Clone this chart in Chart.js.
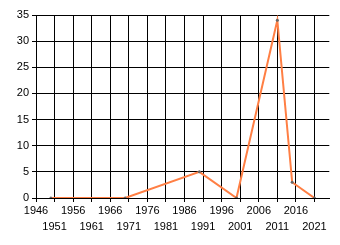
<!DOCTYPE html>
<html>
<head>
<meta charset="utf-8">
<script src="https://cdn.jsdelivr.net/npm/chart.js"></script>
<style>
  body { margin: 0; background: #fff; }
</style>
</head>
<body>
<canvas id="lineChart" width="340" height="245"></canvas>
<script>
// Values
var years = [1950, 1970, 1990, 2000, 2011, 2015, 2021];
var counts = [0, 0, 5, 0, 34, 3, 0];
var xTicks = [1946, 1951, 1956, 1961, 1966, 1971, 1976, 1981, 1986, 1991, 1996, 2001, 2006, 2011, 2016, 2021];
var yTicks = [0, 5, 10, 15, 20, 25, 30, 35];

var points = years.map((y, i) => ({ x: y, y: counts[i] }));

var ctx = document.getElementById('lineChart').getContext('2d');
var lineChart = new Chart(ctx, {
    type: 'line',
    data: {
        datasets: [{
            data: points,
            borderColor: 'rgb(255, 127, 68)',
            borderWidth: 2,
            pointRadius: 1.5,
            pointBackgroundColor: '#666',
            pointBorderWidth: 0,
            tension: 0
        }]
    },
    options: {
        responsive: false,
        animation: false,
        layout: { padding: { top: 15, right: 10.7, left: 0, bottom: 0 } },
        scales: {
            x: {
                type: 'linear',
                min: 1946,
                max: 2025,
                afterBuildTicks: axis => {
                    axis.ticks = xTicks.map(v => ({ value: v }));
                },
                afterFit: scale => { scale.height = 47; },
                grid: { color: '#000', lineWidth: 1, tickLength: 4 },
                border: { color: '#000' },
                ticks: {
                    autoSkip: false,
                    maxRotation: 0,
                    padding: 1,
                    color: '#000',
                    font: { family: 'Liberation Sans', size: 11, lineHeight: 1.45 },
                    callback: function(value, index) {
                        // alternate labels between two rows
                        return index % 2 === 0 ? [String(value)] : ['', String(value)];
                    }
                }
            },
            y: {
                min: 0,
                max: 35,
                afterBuildTicks: axis => {
                    axis.ticks = yTicks.map(v => ({ value: v }));
                },
                afterFit: scale => { scale.width = 36; },
                grid: { color: '#000', lineWidth: 1, tickLength: 4 },
                border: { color: '#000' },
                ticks: {
                    padding: 3,
                    color: '#000',
                    font: { family: 'Liberation Sans', size: 11 }
                }
            }
        },
        plugins: {
            legend: { display: false },
            tooltip: { enabled: false }
        }
    }
});
</script>
</body>
</html>
